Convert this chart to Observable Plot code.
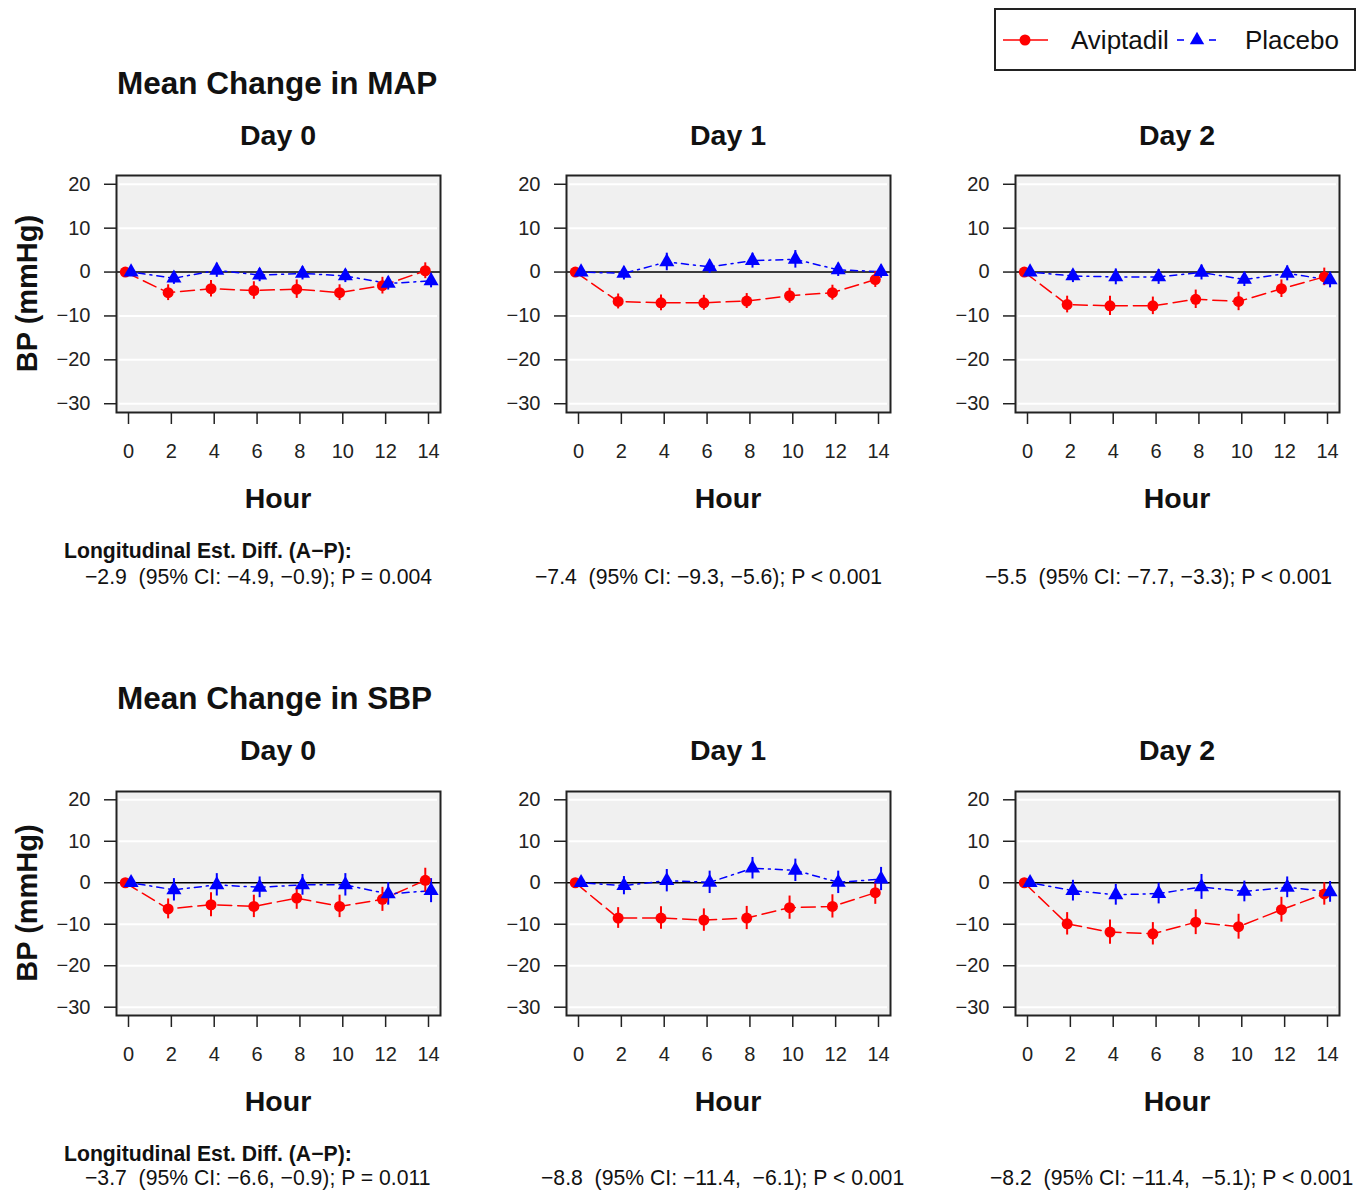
<!DOCTYPE html>
<html>
<head>
<meta charset="utf-8">
<script src="https://cdn.jsdelivr.net/npm/d3@7"></script>
<script src="https://cdn.jsdelivr.net/npm/@observablehq/plot@0.6"></script>
<style>
  html, body { margin: 0; padding: 0; background: #fff; }
  #root { position: relative; width: 1369px; height: 1192px; overflow: hidden; font-family: "Liberation Sans", Arial, sans-serif; }
  #root > svg { position: absolute; }
  .txt { white-space: pre; }
</style>
</head>
<body>
<div id="root"></div>
<script>
// ---------- data ----------
const hours = [0, 2, 4, 6, 8, 10, 12, 14];
const yTicks = [-30, -20, -10, 0, 10, 20];
const groups = ["Aviptadil", "Placebo"];
const measures = ["MAP", "SBP"];
const dayLabels = ["Day 0", "Day 1", "Day 2"];

// Mean Change in MAP
const mapAvipD0 = [0, -4.7, -3.8, -4.2, -3.9, -4.7, -3.1, 0.3];
const mapAvipD0Err = [0, 1.8, 1.9, 2.0, 2.1, 1.8, 1.9, 1.8];
const mapPlacD0 = [0, -1.4, 0.4, -0.7, -0.3, -0.9, -2.6, -2.0];
const mapPlacD0Err = [0, 1.4, 1.6, 1.5, 1.5, 1.5, 1.5, 1.6];

const mapAvipD1 = [0, -6.7, -7.0, -7.0, -6.6, -5.4, -4.7, -1.7];
const mapAvipD1Err = [0, 1.7, 1.8, 1.7, 1.7, 1.7, 1.7, 1.8];
const mapPlacD1 = [0, -0.3, 2.3, 1.2, 2.6, 2.9, 0.5, 0.1];
const mapPlacD1Err = [0, 1.5, 2.0, 1.5, 1.7, 2.0, 1.5, 1.5];

const mapAvipD2 = [0, -7.4, -7.7, -7.7, -6.2, -6.7, -3.8, -1.1];
const mapAvipD2Err = [0, 1.9, 2.2, 2.0, 2.1, 2.1, 2.0, 2.0];
const mapPlacD2 = [0, -0.9, -1.1, -1.1, -0.1, -1.7, -0.3, -1.8];
const mapPlacD2Err = [0, 1.5, 1.8, 1.7, 1.7, 1.6, 1.7, 1.8];

// Mean Change in SBP
const sbpAvipD0 = [0, -6.3, -5.3, -5.7, -3.7, -5.7, -4.0, 0.6];
const sbpAvipD0Err = [0, 2.4, 2.9, 2.7, 2.7, 2.7, 2.9, 2.9];
const sbpPlacD0 = [0, -1.7, -0.5, -1.1, -0.5, -0.5, -2.7, -1.9];
const sbpPlacD0Err = [0, 2.7, 2.7, 2.5, 2.5, 2.7, 2.7, 2.9];

const sbpAvipD1 = [0, -8.5, -8.5, -9.0, -8.5, -6.0, -5.7, -2.4];
const sbpAvipD1Err = [0, 2.5, 2.7, 2.7, 2.8, 2.8, 2.8, 2.8];
const sbpPlacD1 = [0, -0.7, 0.5, 0.1, 3.5, 3.0, 0.1, 0.9];
const sbpPlacD1Err = [0, 2.2, 2.7, 2.7, 2.6, 2.7, 2.7, 2.8];

const sbpAvipD2 = [0, -9.9, -11.9, -12.3, -9.5, -10.6, -6.5, -2.7];
const sbpAvipD2Err = [0, 2.7, 2.9, 2.7, 3.0, 3.0, 3.0, 2.7];
const sbpPlacD2 = [0, -1.9, -2.9, -2.6, -1.0, -2.1, -1.1, -2.2];
const sbpPlacD2Err = [0, 2.5, 2.5, 2.5, 3.0, 2.5, 2.5, 2.5];

const mapAnnot = ["−2.9  (95% CI: −4.9, −0.9); P = 0.004", "−7.4  (95% CI: −9.3, −5.6); P < 0.001", "−5.5  (95% CI: −7.7, −3.3); P < 0.001"];
const sbpAnnot = ["−3.7  (95% CI: −6.6, −0.9); P = 0.011", "−8.8  (95% CI: −11.4,  −6.1); P < 0.001", "−8.2  (95% CI: −11.4,  −5.1); P < 0.001"];
const annotHeader = "Longitudinal Est. Diff. (A−P):";
const yLabel = "BP (mmHg)";
const xLabel = "Hour";

// ---------- layout ----------
const FONT = '"Liberation Sans", Arial, sans-serif';
const root = document.getElementById("root");
const boxLefts = [116, 566, 1015];
const boxW = 324;
const rowGeom = [{top: 175, h: 237}, {top: 791, h: 224}];
const ML = 80, MR = 20, MT = 10, MB = 60;
const dodge = {Aviptadil: -0.15, Placebo: 0.12};
const colors = {Aviptadil: "#ff0000", Placebo: "#0000ff"};

const panelData = [
  [[mapAvipD0, mapAvipD0Err, mapPlacD0, mapPlacD0Err], [mapAvipD1, mapAvipD1Err, mapPlacD1, mapPlacD1Err], [mapAvipD2, mapAvipD2Err, mapPlacD2, mapPlacD2Err]],
  [[sbpAvipD0, sbpAvipD0Err, sbpPlacD0, sbpPlacD0Err], [sbpAvipD1, sbpAvipD1Err, sbpPlacD1, sbpPlacD1Err], [sbpAvipD2, sbpAvipD2Err, sbpPlacD2, sbpPlacD2Err]]
];

function rowsFor(group, vals, errs) {
  return hours.map((h, i) => ({hour: h, group, value: vals[i], lo: vals[i] - errs[i], hi: vals[i] + errs[i]}));
}

function panel(av, pl, boxH) {
  const xf = d => d.hour + dodge[d.group];
  return Plot.plot({
    width: ML + boxW + MR,
    height: MT + boxH + MB,
    marginLeft: ML, marginRight: MR, marginTop: MT, marginBottom: MB,
    x: {domain: [-0.56, 14.56]},
    y: {domain: [-32, 22]},
    style: {fontFamily: FONT, fontSize: "20px", color: "#222", background: "transparent", overflow: "visible"},
    marks: [
      Plot.frame({fill: "#f0f0f0", stroke: null}),
      Plot.ruleY(yTicks.filter(t => t !== 0), {stroke: "#ffffff", strokeWidth: 2, inset: 3}),
      Plot.ruleY([0], {stroke: "#000", strokeWidth: 1.6}),
      Plot.line(av, {x: xf, y: "value", stroke: colors.Aviptadil, strokeWidth: 1.5, strokeDasharray: "14,6"}),
      Plot.line(pl, {x: xf, y: "value", stroke: colors.Placebo, strokeWidth: 1.5, strokeDasharray: "2,5,7,5"}),
      Plot.ruleX(av.filter(d => d.hi > d.lo), {x: xf, y1: "lo", y2: "hi", stroke: colors.Aviptadil, strokeWidth: 2}),
      Plot.ruleX(pl.filter(d => d.hi > d.lo), {x: xf, y1: "lo", y2: "hi", stroke: colors.Placebo, strokeWidth: 2}),
      Plot.dot(av, {x: xf, y: "value", r: 5.5, fill: colors.Aviptadil, symbol: "circle"}),
      Plot.dot(pl, {x: xf, y: "value", r: 5.6, fill: colors.Placebo, symbol: "triangle"}),
      Plot.frame({stroke: "#222", strokeWidth: 2}),
      Plot.axisX({ticks: hours, tickSize: 12, tickPadding: 19, label: null, strokeWidth: 1.5, tickFormat: d => String(d)}),
      Plot.axisY({ticks: yTicks, tickSize: 12, tickPadding: 14, label: null, strokeWidth: 1.5})
    ]
  });
}

measures.forEach((m, r) => {
  const g = rowGeom[r];
  dayLabels.forEach((day, c) => {
    const [aV, aE, pV, pE] = panelData[r][c];
    const svg = panel(rowsFor(groups[0], aV, aE), rowsFor(groups[1], pV, pE), g.h);
    svg.style.left = (boxLefts[c] - ML) + "px";
    svg.style.top = (g.top - MT) + "px";
    svg.style.position = "absolute";
    root.appendChild(svg);
  });
});

// ---------- overlay text ----------
const NS = "http://www.w3.org/2000/svg";
const ov = document.createElementNS(NS, "svg");
ov.setAttribute("width", 1369); ov.setAttribute("height", 1192);
ov.style.left = "0px"; ov.style.top = "0px"; ov.style.pointerEvents = "none";
root.appendChild(ov);

function txt(s, x, y, opts = {}) {
  const t = document.createElementNS(NS, "text");
  t.setAttribute("x", x); t.setAttribute("y", y);
  t.setAttribute("font-family", FONT);
  t.setAttribute("font-size", opts.size || 20);
  t.setAttribute("font-weight", opts.weight || "normal");
  t.setAttribute("text-anchor", opts.anchor || "start");
  t.setAttribute("fill", opts.fill || "#111");
  t.setAttribute("class", "txt");
  if (opts.transform) t.setAttribute("transform", opts.transform);
  t.textContent = s;
  ov.appendChild(t);
  return t;
}

const rowText = [
  {title: 94, day: 145, hour: 508, ann1: 558, ann2: 584, annX: [85, 535, 985]},
  {title: 709, day: 760, hour: 1111, ann1: 1161, ann2: 1185, annX: [85, 541, 990]}
];
const annots = [mapAnnot, sbpAnnot];

measures.forEach((m, r) => {
  const T = rowText[r], g = rowGeom[r];
  txt("Mean Change in " + m, 117, T.title, {size: 31.5, weight: "bold"});
  dayLabels.forEach((day, c) => {
    const cx = boxLefts[c] + boxW / 2;
    txt(day, cx, T.day, {size: 28.5, weight: "bold", anchor: "middle"});
    txt(xLabel, cx, T.hour, {size: 28.5, weight: "bold", anchor: "middle"});
    txt(annots[r][c], T.annX[c], T.ann2, {size: 21.2});
  });
  txt(annotHeader, 64, T.ann1, {size: 21.2, weight: "bold"});
  const cy = g.top + g.h / 2;
  txt(yLabel, 0, 0, {size: 29, weight: "bold", anchor: "middle", transform: `translate(37,${cy}) rotate(-90)`});
});

// legend
const leg = document.createElementNS(NS, "g");
ov.appendChild(leg);
function el(name, attrs) {
  const e = document.createElementNS(NS, name);
  for (const k in attrs) e.setAttribute(k, attrs[k]);
  leg.appendChild(e);
  return e;
}
el("rect", {x: 995, y: 9, width: 360, height: 61, fill: "#fff", stroke: "#222", "stroke-width": 2});
el("line", {x1: 1003, x2: 1048, y1: 40, y2: 40, stroke: colors.Aviptadil, "stroke-width": 1.6});
el("circle", {cx: 1025, cy: 40, r: 5.5, fill: colors.Aviptadil});
el("line", {x1: 1177, x2: 1184, y1: 40, y2: 40, stroke: colors.Placebo, "stroke-width": 1.6});
el("line", {x1: 1209, x2: 1216, y1: 40, y2: 40, stroke: colors.Placebo, "stroke-width": 1.6});
el("path", {d: d3.symbol(d3.symbolTriangle, 90)(), transform: "translate(1197,40)", fill: colors.Placebo});
const t1 = txt(groups[0], 1071, 49, {size: 26});
const t2 = txt(groups[1], 1245, 49, {size: 26});
leg.appendChild(t1); leg.appendChild(t2);
</script>
</body>
</html>
